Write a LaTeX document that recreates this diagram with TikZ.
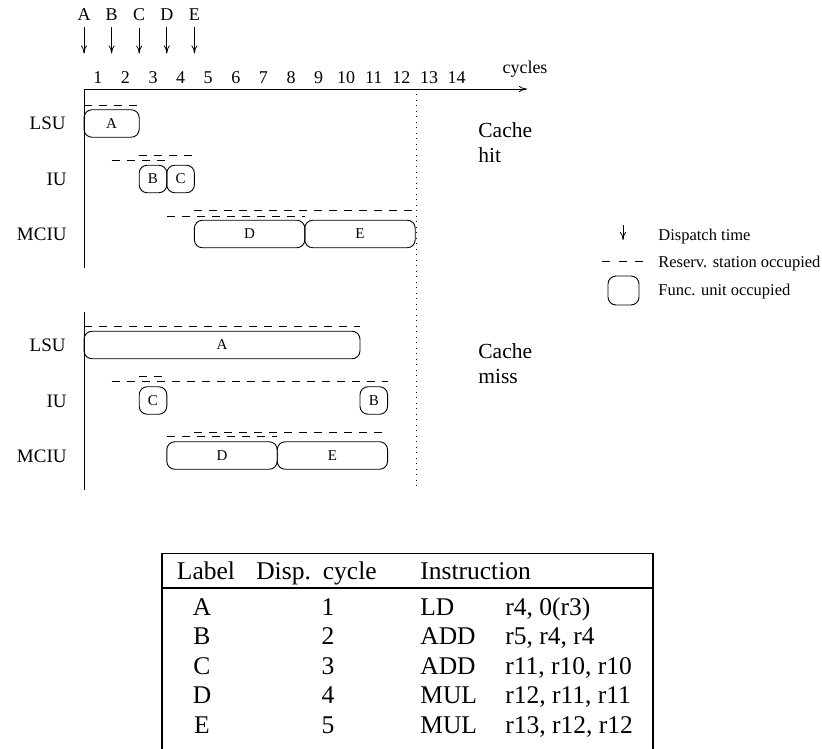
\documentclass[tikz,border=0pt]{standalone}
\usepackage{fontspec}
\setmainfont{Liberation Serif}
\usetikzlibrary{arrows.meta, positioning}

\begin{document}
\begin{tikzpicture}[x=1pt, y=-1pt, line width=0.8pt,
    >={To[length=8pt,width=6pt]},
    rsline/.style={dash pattern=on 8pt off 7pt},
    fubox/.style={draw, line width=0.9pt, rounded corners=8pt, minimum height=27.5pt,
      inner sep=0pt, font=\fontsize{15}{17}\selectfont},
    fu/.style={fubox, minimum width=#1*27.6pt},
    small/.style={anchor=base, inner sep=0pt, font=\fontsize{18}{20}\selectfont},
    unitlbl/.style={anchor=base east, inner sep=0pt, font=\fontsize{19}{22}\selectfont},
    cachelbl/.style={anchor=base west, inner sep=0pt, font=\fontsize{21.5}{25}\selectfont},
    legtext/.style={anchor=base west, inner sep=0pt, font=\fontsize{16.5}{19}\selectfont},
    tabtext/.style={anchor=base, inner sep=0pt, font=\fontsize{25.5}{29}\selectfont}]
  \useasboundingbox (0,0) rectangle (822,749);

  % dispatch times and cycle axis
  \foreach \l [count=\i] in {A,B,C,D,E} {
    \node[small] (d\l) at ({84+(\i-1)*27.6}, 21) {\l};
    \draw[->] ([yshift=-6pt]d\l.south) -- ++(0,26);
  }
  \foreach \c in {1,...,14}
    \node[small] (c\c) at ({84+(\c-0.5)*27.6}, 84) {\c};
  \coordinate (origin) at (84,89);
  \draw[->] (origin) -- (527,89);
  \node[small] (cycles) at (525,74) {cycles};
  \draw (origin) -- (84,268);
  \draw (84,312) -- (84,490);
  \draw[dash pattern=on 1pt off 4.5pt] (416,89) -- (416,490);

  % unit names
  \node[unitlbl] (hitLSU) at (66,130) {LSU};
  \node[unitlbl] (hitIU) at (67,185.5) {IU};
  \node[unitlbl] (hitMCIU) at (67,240.5) {MCIU};
  \node[unitlbl] (missLSU) at (66,351.5) {LSU};
  \node[unitlbl] (missIU) at (67,407) {IU};
  \node[unitlbl] (missMCIU) at (67,462) {MCIU};

  \begin{scope}[shift={(84,0)}, x=27.6pt]
    % cache hit
    \draw[rsline] (0,105) -- (2,105);
    \node[fu=2] (hitA) at (1,123.5) {A};
    \draw[rsline] (1,160.7) -- (3,160.7);
    \draw[rsline] (2,155.7) -- (4,155.7);
    \node[fu=1] (hitB) at (2.5,179) {B};
    \node[fu=1] (hitC) at (3.5,179) {C};
    \draw[rsline] (3,216) -- (8,216);
    \draw[rsline] (4,210) -- (12,210);
    \node[fu=4] (hitD) at (6,234) {D};
    \node[fu=4] (hitE) at (10,234) {E};
    % cache miss
    \draw[rsline] (0,326) -- (10,326);
    \node[fu=10] (missA) at (5,345) {A};
    \draw[rsline] (2,376.7) -- (3,376.7);
    \draw[rsline] (1,381.7) -- (11,381.7);
    \node[fu=1] (missC) at (2.5,400.5) {C};
    \node[fu=1] (missB) at (10.5,400.5) {B};
    \draw[rsline] (4,432.3) -- (11,432.3);
    \draw[rsline] (3,436.7) -- (7,436.7);
    \node[fu=4] (missD) at (5,455.5) {D};
    \node[fu=4] (missE) at (9,455.5) {E};
  \end{scope}

  \node[cachelbl] (hit1) at (478,138) {Cache};
  \node[cachelbl] (hit2) at (478,163) {hit};
  \node[cachelbl] (miss1) at (478,358) {Cache};
  \node[cachelbl] (miss2) at (478,383) {miss};

  % legend
  \coordinate (lgArrow) at (623,225);
  \draw[->] (lgArrow) -- ++(0,15);
  \node[legtext] (lgDisp) at (658,240) {Dispatch time};
  \draw[dash pattern=on 8pt off 8.5pt] (602,261.7) -- (643,261.7);
  \node[legtext] (lgRes) at (658,267) {Reserv. station occupied};
  \node[fubox, minimum width=31pt, minimum height=29pt] (lgBox) at (623.5,290.5) {};
  \node[legtext] (lgFunc) at (658,295) {Func. unit occupied};

  % table
  \draw[line width=1.6pt] (161.7,749) -- (161.7,553.3) -- (653,553.3) -- (653,749);
  \draw[line width=1.6pt] (161.7,587.7) -- (653,587.7);
  \node[tabtext] (hLabel) at (206,579.3) {Label};
  \node[tabtext] (hDisp) at (316.5,579.3) {Disp.\hspace{12pt}cycle};
  \node[tabtext, anchor=base west] (hInstr) at (420,579.3) {Instruction};
  \foreach \lab/\cyc/\op/\args [count=\r] in {A/1/LD/{r4, 0(r3)}, B/2/ADD/{r5, r4, r4},
      C/3/ADD/{r11, r10, r10}, D/4/MUL/{r12, r11, r11}, E/5/MUL/{r13, r12, r12}} {
    \node[tabtext] (lab\r) at (202,{615+(\r-1)*29.5}) {\lab};
    \node[tabtext] (cyc\r) at (328,{615+(\r-1)*29.5}) {\cyc};
    \node[tabtext, anchor=base west] (op\r) at (420,{615+(\r-1)*29.5}) {\op};
    \node[tabtext, anchor=base west] (args\r) at (505,{615+(\r-1)*29.5}) {\args};
  }
\end{tikzpicture}
\end{document}
